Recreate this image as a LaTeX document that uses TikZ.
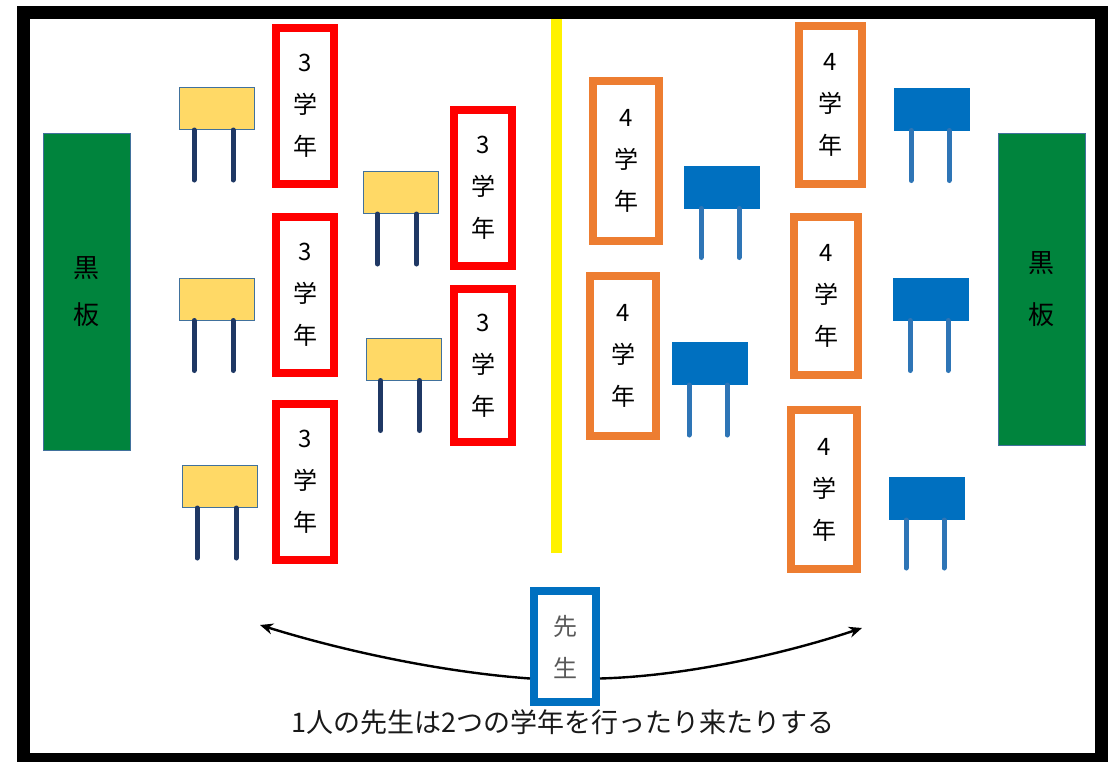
\documentclass[tikz,border=0pt]{standalone}
\usepackage{fontspec}
\setmainfont{Noto Sans CJK JP}
\usetikzlibrary{arrows.meta}
\definecolor{boardgreen}{RGB}{0,132,61}
\definecolor{edgeblue}{RGB}{65,113,156}
\definecolor{deskyellow}{RGB}{255,217,102}
\definecolor{deskblue}{RGB}{0,112,192}
\definecolor{legnavy}{RGB}{31,56,100}
\definecolor{legblue}{RGB}{46,117,182}
\definecolor{gradeorange}{RGB}{237,125,49}
\definecolor{textgray}{RGB}{89,89,89}
\tikzset{%
    grade/.style={draw,line width=8pt,fill=white,inner sep=0pt,align=center,
        font=\fontsize{24}{42}\selectfont},
    desk/.style={draw=edgeblue,line width=1pt,inner sep=0pt,minimum width=75pt,minimum height=42pt}
}

\begin{document}
\begin{tikzpicture}[
                x=1pt,y=-1pt,
                third/.style={grade,draw=red,minimum width=58pt,minimum height=156pt},
                fourth/.style={grade,draw=gradeorange,minimum width=66pt,minimum height=160pt},
                board/.style={draw=edgeblue,line width=1pt,fill=boardgreen,minimum width=87pt,
                    inner sep=0pt,align=center,font=\fontsize{26}{47}\selectfont},
                ydesk/.style={desk,fill=deskyellow},
                bdesk/.style={desk,fill=deskblue,draw=deskblue},
                legy/.style={line width=5pt,line cap=round,legnavy},
                legb/.style={line width=5pt,line cap=round,legblue},
                move/.style={line width=2.4pt,-{Stealth[length=13pt,width=11pt]}}
            ]
            \useasboundingbox (0,0) rectangle (1112,761);
            \draw[line width=13pt] (23.5,12.5) rectangle (1101,759.5);
            \draw[line width=11pt,yellow] (556,19) -- (556,553);

            % blackboards
            \node[board,minimum height=317pt] (bl) at (86.5,291.5){黒\\板};
            \node[board,minimum height=312pt,font=\fontsize{26}{52}\selectfont] (br) at (1041.5,289){黒\\板};

            % 3rd grade
            \node[ydesk] (y1) at (217,108.5){};
            \node[ydesk] (y2) at (400.5,192.5){};
            \node[ydesk] (y3) at (217,299){};
            \node[ydesk] (y4) at (403.5,359){};
            \node[ydesk] (y5) at (220,486.5){};
            \draw[legy] ([xshift=15pt]y1.south west) -- ++(0,50) ([xshift=54pt]y1.south west) -- ++(0,50);
            \draw[legy] ([xshift=15pt]y2.south west) -- ++(0,50) ([xshift=54pt]y2.south west) -- ++(0,50);
            \draw[legy] ([xshift=15pt]y3.south west) -- ++(0,50) ([xshift=54pt]y3.south west) -- ++(0,50);
            \draw[legy] ([xshift=15pt]y4.south west) -- ++(0,50) ([xshift=54pt]y4.south west) -- ++(0,50);
            \draw[legy] ([xshift=15pt]y5.south west) -- ++(0,50) ([xshift=54pt]y5.south west) -- ++(0,50);

            \node[third] (g1) at (305,106){3\\学\\年};
            \node[third] (g2) at (305,295){3\\学\\年};
            \node[third] (g3) at (305,481.5){3\\学\\年};
            \node[third] (g4) at (483,188){3\\学\\年};
            \node[third,minimum height=153pt] (g5) at (483,365.5){3\\学\\年};

            % 4th grade
            \node[bdesk] (b1) at (932,109){};
            \node[bdesk] (b2) at (722,187){};
            \node[bdesk] (b3) at (931,299){};
            \node[bdesk] (b4) at (710,363.5){};
            \node[bdesk] (b5) at (927,498.5){};
            \draw[legb] ([xshift=17pt]b1.south west) -- ++(0,50) ([xshift=55pt]b1.south west) -- ++(0,50);
            \draw[legb] ([xshift=17pt]b2.south west) -- ++(0,49) ([xshift=55pt]b2.south west) -- ++(0,49);
            \draw[legb] ([xshift=17pt]b3.south west) -- ++(0,50) ([xshift=55pt]b3.south west) -- ++(0,50);
            \draw[legb] ([xshift=17pt]b4.south west) -- ++(0,50) ([xshift=55pt]b4.south west) -- ++(0,50);
            \draw[legb] ([xshift=17pt]b5.south west) -- ++(0,48) ([xshift=55pt]b5.south west) -- ++(0,48);

            \node[fourth] (f1) at (626,161){4\\学\\年};
            \node[fourth] (f2) at (623,356){4\\学\\年};
            \node[fourth,minimum width=63pt,minimum height=158pt] (f3) at (830.5,105){4\\学\\年};
            \node[fourth,minimum width=64pt,minimum height=158pt] (f4) at (826,296){4\\学\\年};
            \node[fourth,minimum width=66pt,minimum height=159pt] (f5) at (824,489.5){4\\学\\年};

            % teacher
            \node[grade,draw=deskblue,text=textgray,minimum width=62pt,minimum height=111pt] (t) at (565,646.5){先\\生};
            \coordinate (lend) at (260,625);
            \coordinate (rend) at (862,628);
            \draw[move] ([yshift=-32pt]t.west) .. controls (440,672) and (340,650) .. (lend);
            \draw[move] ([yshift=-32pt]t.east) .. controls (690,676) and (790,652) .. (rend);

            \node[font=\fontsize{27}{30}\selectfont,text=black!90] (note) at (563,722){1人の先生は2つの学年を行ったり来たりする};
        \end{tikzpicture}
\end{document}
